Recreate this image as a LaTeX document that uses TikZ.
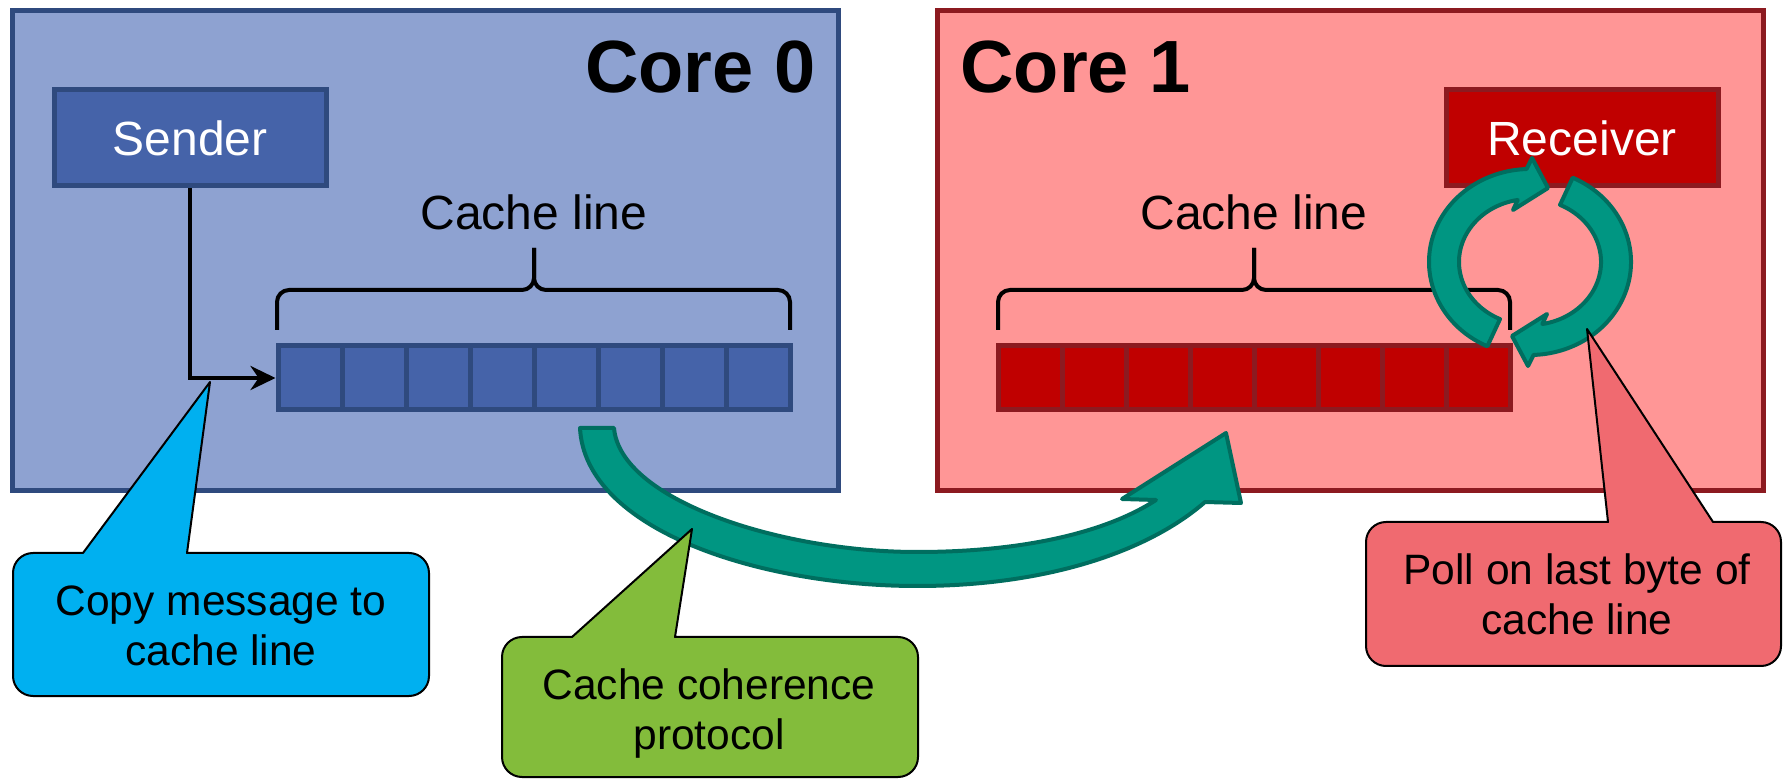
\documentclass[tikz,border=0pt]{standalone}
\usepackage{fontspec}
\setmainfont{Liberation Sans}
\usetikzlibrary{arrows.meta,calc}

\definecolor{coreAfill}{RGB}{142,162,209}
\definecolor{coreAborder}{RGB}{47,74,126}
\definecolor{procAfill}{RGB}{69,99,169}
\definecolor{coreBfill}{RGB}{255,150,150}
\definecolor{coreBborder}{RGB}{140,26,32}
\definecolor{procBfill}{RGB}{192,0,0}
\definecolor{tealfill}{RGB}{0,150,130}
\definecolor{tealborder}{RGB}{0,110,95}
\definecolor{calblue}{RGB}{0,176,240}
\definecolor{calgreen}{RGB}{131,188,59}
\definecolor{calred}{RGB}{240,106,112}

\newcommand{\mycallout}[9]{%
  \draw[calloutshape, fill=#1] (#6,#3) -- (#8,#9) -- (#7,#3) -- (#4-20,#3)
    arc[start angle=-90,end angle=0,radius=20] -- (#4,#5-20)
    arc[start angle=0,end angle=90,radius=20] -- (#2+20,#5)
    arc[start angle=90,end angle=180,radius=20] -- (#2,#3+20)
    arc[start angle=180,end angle=270,radius=20] -- cycle;}

\begin{document}
\begin{tikzpicture}[x=0.5pt,y=-0.5pt,
  coreA/.style={draw=coreAborder, fill=coreAfill, line width=2.5pt, minimum width=413pt, minimum height=240pt, inner sep=0},
  coreB/.style={draw=coreBborder, fill=coreBfill, line width=2.5pt, minimum width=413pt, minimum height=240pt, inner sep=0},
  procA/.style={draw=coreAborder, fill=procAfill, line width=2.5pt, minimum width=136pt, minimum height=48pt, inner sep=0, text=white, font=\fontsize{24}{28}\selectfont},
  procB/.style={draw=coreBborder, fill=procBfill, line width=2.5pt, minimum width=136pt, minimum height=48pt, inner sep=0, text=white, font=\fontsize{24}{28}\selectfont},
  cellA/.style={draw=coreAborder, fill=procAfill, line width=2.5pt, minimum width=32pt, minimum height=32pt, inner sep=0},
  cellB/.style={draw=coreBborder, fill=procBfill, line width=2.5pt, minimum width=32pt, minimum height=32pt, inner sep=0},
  bracestyle/.style={draw=black, line width=2pt, rounded corners=6pt},
  cltext/.style={font=\fontsize{24}{28}\selectfont, inner sep=0},
  corelabel/.style={font=\fontsize{37}{44}\selectfont\bfseries, inner sep=0},
  calloutshape/.style={draw=black, line width=1pt, line join=round},
  callouttext/.style={align=center, font=\fontsize{21.25}{25}\selectfont, inner sep=0},
  tealshape/.style={fill=tealfill, draw=tealborder, line width=2pt, line join=round},
  link/.style={draw=black, line width=2pt, -{Stealth[length=12.5pt,width=12pt]}}
]
\useasboundingbox (0,0) rectangle (1787,779);

% cores
\node[coreA] (core0) at (425,251) {};
\node[coreB] (core1) at (1350,251) {};
\node[corelabel, anchor=base east] (core0lbl) at (816,93) {Core 0};
\node[corelabel, anchor=base west] (core1lbl) at (960,93) {Core 1};

% sender / receiver
\node[procA] (sender) at (190,138) {Sender};
\node[procB] (receiver) at (1582,138) {Receiver};

% cache lines
\foreach \i in {0,...,7} {
  \node[cellA] (a\i) at ({310+64*\i},378) {};
  \node[cellB] (b\i) at ({1030+64*\i},378) {};
}

% braces
\draw[bracestyle] (277,330) |- (534,290) -- (534,248);
\draw[bracestyle] (790,330) |- (534,290) -- (534,248);
\draw[bracestyle] (998,330) |- (1254,290) -- (1254,248);
\draw[bracestyle] (1510,330) |- (1254,290) -- (1254,248);
\node[cltext, anchor=base] (cl0) at (534,230) {Cache line};
\node[cltext, anchor=base] (cl1) at (1254,230) {Cache line};

% sender to cache line
\draw[link] (sender.south) |- (a0.west);

% coherence arrow
\draw[tealshape] (580,428) .. controls (585,530) and (760,586) .. (917,586)
  .. controls (1050,586) and (1150,550) .. (1205,502)
  -- (1241,503) -- (1226,433) -- (1122,499) -- (1156,500)
  .. controls (1110,530) and (1030,552) .. (917,552)
  .. controls (780,552) and (620,500) .. (614,428) -- cycle;

% polling ring
\coordinate (C) at (1530,262);
\draw[tealshape] ($(C)+(115:101 and 93)$) arc[start angle=115, end angle=268, x radius=101, y radius=93]
  -- (1532,158) -- (1548,188) -- (1513,210)
  -- ($(C)+(260:71 and 63)$) arc[start angle=260, end angle=115, x radius=71, y radius=63] -- cycle;
\begin{scope}[rotate around={180:(C)}]
\draw[tealshape] ($(C)+(115:101 and 93)$) arc[start angle=115, end angle=268, x radius=101, y radius=93]
  -- (1532,158) -- (1548,188) -- (1513,210)
  -- ($(C)+(260:71 and 63)$) arc[start angle=260, end angle=115, x radius=71, y radius=63] -- cycle;
\end{scope}

% callouts
\mycallout{calblue}{13}{553}{429}{696}{83}{187}{210}{382}
\mycallout{calgreen}{502}{637}{918}{777}{572}{675}{692}{529}
\mycallout{calred}{1366}{522}{1781}{666}{1608}{1713}{1587}{329}
\node[callouttext] (copytext) at (221,626) {Copy message to\\cache line};
\node[callouttext] (cohtext) at (709,714) {Cache coherence\\protocol};
\node[callouttext] (polltext) at (1577,594) {Poll on last byte of\\cache line};
\end{tikzpicture}
\end{document}
